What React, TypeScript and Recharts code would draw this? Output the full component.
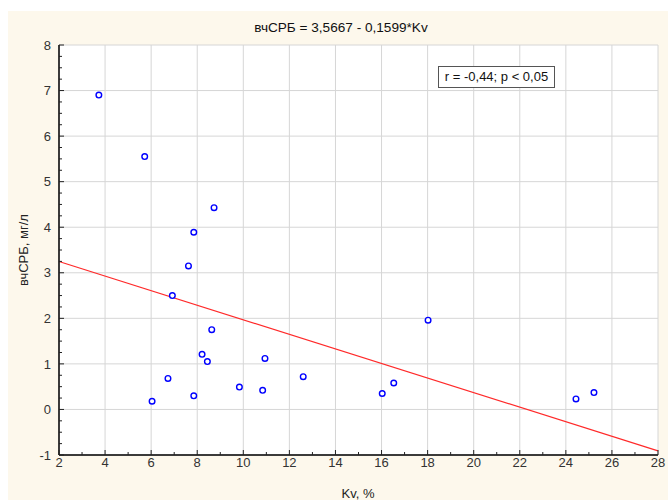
import React from 'react';
import { ScatterChart, Scatter, XAxis, YAxis, CartesianGrid, ReferenceLine } from 'recharts';

// Kv, % (x) and вчСРБ, мг/л (y)
const kvValues = [3.73, 5.72, 7.85, 8.73, 7.62, 6.92, 8.63, 8.21, 8.44, 10.94, 6.73, 12.6, 9.83, 10.84, 7.85, 6.04, 18.02, 16.03, 16.53, 24.44, 25.22];
const crpValues = [6.9, 5.55, 3.89, 4.43, 3.15, 2.5, 1.75, 1.21, 1.05, 1.12, 0.68, 0.72, 0.49, 0.42, 0.3, 0.18, 1.96, 0.35, 0.58, 0.23, 0.37];

const xMajorTicks = [2, 4, 6, 8, 10, 12, 14, 16, 18, 20, 22, 24, 26, 28];
const xAllTicks = [2, 3, 4, 5, 6, 7, 8, 9, 10, 11, 12, 13, 14, 15, 16, 17, 18, 19, 20, 21, 22, 23, 24, 25, 26, 27, 28];
const yMajorTicks = [-1, 0, 1, 2, 3, 4, 5, 6, 7, 8];
const yAllTicks = [
  -1, -0.75, -0.5, -0.25, 0, 0.25, 0.5, 0.75, 1, 1.25, 1.5, 1.75, 2, 2.25, 2.5, 2.75, 3, 3.25, 3.5, 3.75,
  4, 4.25, 4.5, 4.75, 5, 5.25, 5.5, 5.75, 6, 6.25, 6.5, 6.75, 7, 7.25, 7.5, 7.75, 8,
];

const intercept = 3.5667;
const slope = -0.1599;
const fitLine = [
  { x: 2, y: intercept + slope * 2 },
  { x: 28, y: intercept + slope * 28 },
];

const points = kvValues.map((x, i) => ({ x, y: crpValues[i] }));

const isInt = (v: number) => Math.abs(v - Math.round(v)) < 1e-6;
const font = 'Arial, "Liberation Sans", sans-serif';

const BottomTick = (props: any) => {
  const { x, y, payload } = props;
  const v = payload.value;
  const major = v % 2 === 0;
  const base = y - 3;
  return (
    <g>
      <line x1={x} x2={x} y1={base} y2={base - (major ? 5 : 3)} stroke="#222" />
      {major && (
        <text x={x} y={y} dy="0.71em" textAnchor="middle" fontSize={13} fill="#333" fontFamily={font}>
          {v}
        </text>
      )}
    </g>
  );
};

const TopTick = (props: any) => {
  const { x, y, payload } = props;
  const major = payload.value % 2 === 0;
  return <line x1={x} x2={x} y1={y} y2={y + (major ? 4 : 3)} stroke="#222" />;
};

const LeftTick = (props: any) => {
  const { x, y, payload } = props;
  const v = payload.value;
  const major = isInt(v);
  const base = x + 8;
  return (
    <g>
      <line x1={base} x2={base + (major ? 5 : 3)} y1={y} y2={y} stroke="#222" />
      {major && (
        <text x={x} y={y} dy="0.355em" textAnchor="end" fontSize={13} fill="#333" fontFamily={font}>
          {v}
        </text>
      )}
    </g>
  );
};

const RightTick = (props: any) => {
  const { x, y, payload } = props;
  const major = isInt(payload.value);
  return <line x1={x} x2={x - (major ? 4 : 3)} y1={y} y2={y} stroke="#222" />;
};

const Dot = (props: any) => (
  <circle cx={props.cx} cy={props.cy} r={2.8} fill="#fff" stroke="#0000ff" strokeWidth={1.4} />
);

export default function App() {
  return (
    <div style={{ position: 'absolute', left: 0, top: 0, width: 668, height: 503, background: '#fff', fontFamily: font }}>
      <div style={{ position: 'absolute', left: 8, top: 11, width: 660, height: 489, background: '#fdf8ec' }} />
      <div style={{ position: 'absolute', left: 0, top: 0 }}>
        <ScatterChart width={668} height={503} margin={{ top: 45, right: 10, bottom: 8, left: 8 }}>
          <CartesianGrid
            stroke="#d6d6d6"
            fill="#fff"
            verticalValues={xMajorTicks}
            horizontalValues={yMajorTicks}
          />
          <XAxis
            type="number"
            dataKey="x"
            domain={[2, 28]}
            allowDataOverflow
            ticks={xAllTicks}
            interval={0}
            tickLine={false}
            tickSize={0}
            tickMargin={3}
            tick={<BottomTick />}
            axisLine={{ stroke: '#000', strokeWidth: 1.5 }}
            height={40}
          />
          <XAxis
            xAxisId="top"
            orientation="top"
            type="number"
            domain={[2, 28]}
            allowDataOverflow
            ticks={xAllTicks}
            interval={0}
            tickLine={false}
            tickSize={0}
            tickMargin={0}
            tick={<TopTick />}
            axisLine={{ stroke: '#000', strokeWidth: 1.2 }}
            height={0}
          />
          <YAxis
            type="number"
            dataKey="y"
            domain={[-1, 8]}
            allowDataOverflow
            ticks={yAllTicks}
            interval={0}
            tickLine={false}
            tickSize={0}
            tickMargin={8}
            tick={<LeftTick />}
            axisLine={{ stroke: '#000', strokeWidth: 1.5 }}
            width={51}
          />
          <YAxis
            yAxisId="right"
            orientation="right"
            type="number"
            domain={[-1, 8]}
            allowDataOverflow
            ticks={yAllTicks}
            interval={0}
            tickLine={false}
            tickSize={0}
            tickMargin={0}
            tick={<RightTick />}
            axisLine={{ stroke: '#000', strokeWidth: 1.2 }}
            width={0}
          />
          <ReferenceLine segment={fitLine} stroke="#ff2a2a" strokeWidth={1.2} />
          <Scatter data={points} shape={<Dot />} isAnimationActive={false} />
        </ScatterChart>
      </div>
      <div style={{ position: 'absolute', left: 0, width: 682, top: 20, textAlign: 'center', fontSize: 13.6, color: '#111' }}>
        вчСРБ = 3,5667 - 0,1599*Kv
      </div>
      <div
        style={{
          position: 'absolute',
          left: 23,
          top: 250,
          transform: 'translate(-50%, -50%) rotate(-90deg)',
          whiteSpace: 'nowrap',
          fontSize: 13,
          color: '#222',
        }}
      >
        вчСРБ, мг/л
      </div>
      <div style={{ position: 'absolute', left: 358, top: 486, transform: 'translateX(-50%)', fontSize: 13, color: '#222' }}>
        Kv, %
      </div>
      <div
        style={{
          position: 'absolute',
          left: 438,
          top: 66,
          width: 115,
          height: 20,
          border: '1px solid #555',
          background: '#fff',
          fontSize: 13,
          lineHeight: '20px',
          textAlign: 'center',
          color: '#111',
        }}
      >
        r = -0,44; p &lt; 0,05
      </div>
    </div>
  );
}
